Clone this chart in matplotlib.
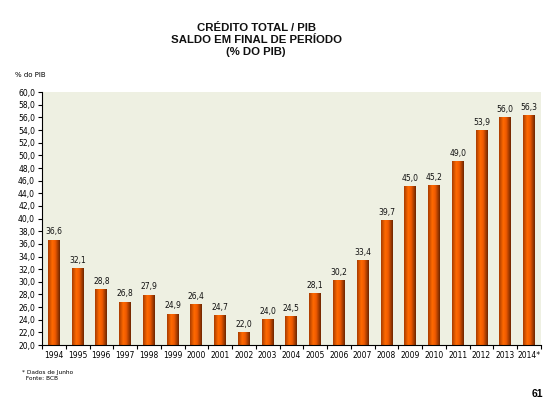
import matplotlib
matplotlib.use("Agg")
import matplotlib.pyplot as plt
import numpy as np
from matplotlib.colors import LinearSegmentedColormap

years = ["1994", "1995", "1996", "1997", "1998", "1999", "2000", "2001", "2002", "2003",
         "2004", "2005", "2006", "2007", "2008", "2009", "2010", "2011", "2012", "2013", "2014*"]
values = [36.6, 32.1, 28.8, 26.8, 27.9, 24.9, 26.4, 24.7, 22.0, 24.0,
          24.5, 28.1, 30.2, 33.4, 39.7, 45.0, 45.2, 49.0, 53.9, 56.0, 56.3]
yticks = np.arange(20, 60.1, 2)
ymin, ymax = 20, 60

title = "CRÉDITO TOTAL / PIB\nSALDO EM FINAL DE PERÍODO\n(% DO PIB)"

fig = plt.figure(figsize=(5.57, 4.19), dpi=100)
fig.patch.set_facecolor("white")
ax = fig.add_axes([0.0754, 0.1766, 0.8956, 0.6034])
ax.set_facecolor("#EEF0E2")

x = np.arange(len(years))
bars = ax.bar(x, values, width=0.5, bottom=0, color="none", edgecolor="none", zorder=2)

cmap = LinearSegmentedColormap.from_list(
    "og", [(0, "#A83C00"), (0.35, "#FF6A00"), (0.6, "#F05A00"), (1, "#6E2600")])
grad = np.linspace(0, 1, 64).reshape(1, -1)
for b in bars:
    bx = b.get_x()
    w = b.get_width()
    top = b.get_y() + b.get_height()
    bot = max(b.get_y(), ymin)
    ax.imshow(grad, cmap=cmap, aspect="auto",
              extent=(bx, bx + w, bot, top), zorder=2)

for xi, v in zip(x, values):
    ax.text(xi, v + 0.6, f"{v:.1f}".replace(".", ","), ha="center", va="bottom",
            fontsize=5.5, fontfamily="DejaVu Sans", color="#111111")

ax.set_xlim(-0.5, len(years) - 0.5)
ax.set_ylim(ymin, ymax)
ax.set_yticks(yticks)
ax.set_yticklabels([f"{t:.1f}".replace(".", ",") for t in yticks],
                   fontsize=5.5, fontfamily="DejaVu Sans")
ax.set_xticks(x)
ax.set_xticklabels(years, fontsize=5.5, fontfamily="DejaVu Sans")
ax.set_xticks(np.arange(-0.5, len(years), 1), minor=True)
ax.tick_params(axis="x", which="major", length=0, pad=4)
ax.tick_params(axis="x", which="minor", length=3, width=0.8, direction="out")
ax.tick_params(axis="y", length=3, width=0.8, direction="out", pad=2)
for s in ["top", "right"]:
    ax.spines[s].set_visible(False)
for s in ["left", "bottom"]:
    ax.spines[s].set_linewidth(0.8)
    ax.spines[s].set_color("black")

fig.text(0.46, 0.946, title, ha="center", va="top", fontsize=8.2, fontweight="bold",
         fontfamily="Liberation Sans", linespacing=1.3, color="#111111")
fig.text(0.027, 0.82, "% do PIB", ha="left", va="center", fontsize=5,
         fontfamily="DejaVu Sans")
fig.text(0.04, 0.104, "* Dados de Junho\n  Fonte: BCB", ha="left", va="center",
         fontsize=4.2, fontfamily="DejaVu Sans", linespacing=1.3)
fig.text(0.975, 0.06, "61", ha="right", va="center", fontsize=7.5, fontweight="bold",
         fontfamily="Liberation Sans")

fig.savefig("out.png", dpi=100)
